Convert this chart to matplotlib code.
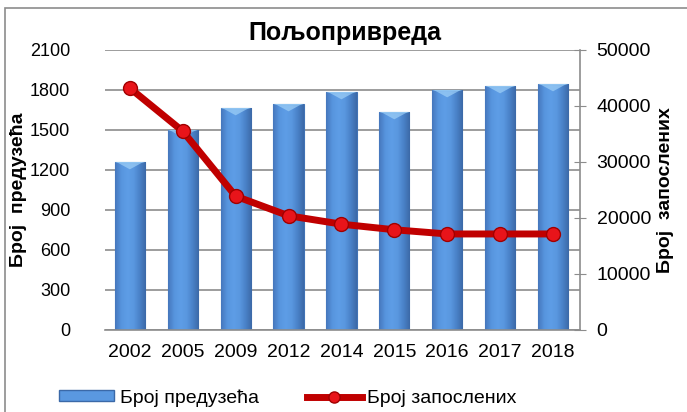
import matplotlib
matplotlib.use('Agg')
import matplotlib.pyplot as plt
import numpy as np
from matplotlib.patches import Rectangle
from matplotlib.lines import Line2D
from matplotlib.colors import LinearSegmentedColormap

years = ['2002', '2005', '2009', '2012', '2014', '2015', '2016', '2017', '2018']
firms = [1260, 1500, 1665, 1695, 1785, 1635, 1800, 1830, 1845]
employees = [43200, 35500, 23900, 20400, 18900, 17900, 17150, 17150, 17150]

plt.rcParams['font.family'] = ['Liberation Sans Narrow', 'Liberation Sans', 'DejaVu Sans']

fig = plt.figure(figsize=(6.87, 4.12), dpi=100)
# outer chart frame (cut off on the right and bottom like the original)
fig.patches.append(Rectangle((5 / 687, -0.1), 1.1, 1.1 - 8 / 412, transform=fig.transFigure,
                             fill=False, edgecolor='#8c8c8c', linewidth=1.2))

ax = fig.add_axes([105 / 687, 1 - 330 / 412, (580 - 105) / 687, 280 / 412])
x = np.arange(len(years))
width = 0.57
bars = ax.bar(x, firms, width=width, color='#5593dc', edgecolor='#4173b5', linewidth=0.8, zorder=2)

# horizontal shading inside each bar
cmap = LinearSegmentedColormap.from_list('bar', ['#4677bd', '#5795de', '#5e9de6', '#5a98e0', '#4a82c8', '#3c69a8'])
grad = np.linspace(0, 1, 64).reshape(1, -1)
for b in bars:
    x0, w, h = b.get_x(), b.get_width(), b.get_height()
    im = ax.imshow(grad, cmap=cmap, extent=[x0, x0 + w, 0, h], aspect='auto', zorder=2.1)
    im.set_clip_path(b)
    # light bevel on the top of the bar
    ax.fill([x0 + w * 0.12, x0 + w * 0.88, x0 + w * 0.5], [h - 8, h - 8, h - 55],
            color='#9fd0f7', alpha=0.7, zorder=2.2, linewidth=0)
    ax.fill([x0, x0 + w, x0 + w * 0.88, x0 + w * 0.12], [h, h, h - 8, h - 8],
            color='#8fc4f1', zorder=2.2, linewidth=0)

ax.set_ylim(0, 2100)
ax.set_yticks(range(0, 2101, 300))
ax.set_xlim(-0.47, 8.51)
ax.set_xticks(x)
ax.set_xticklabels(years)
ax.yaxis.grid(True, color='#8c8c8c', linewidth=1.2, zorder=0)
ax.set_axisbelow(True)
for s in ['top', 'left', 'right']:
    ax.spines[s].set_visible(False)
ax.spines['bottom'].set_color('#8c8c8c')
ax.spines['bottom'].set_linewidth(1.2)
ax.tick_params(axis='both', length=0, labelsize=14)
ax.tick_params(axis='y', labelsize=13, pad=25)
ax.tick_params(axis='x', pad=10)

ax2 = ax.twinx()
ax2.plot(x, employees, color='#c00000', linewidth=5, marker='o', markersize=10,
         markerfacecolor='#e8141a', markeredgecolor='#a00000', zorder=3)
ax2.set_ylim(0, 50000)
ax2.set_yticks(range(0, 50001, 10000))
for s in ['top', 'left', 'bottom']:
    ax2.spines[s].set_visible(False)
ax2.spines['right'].set_color('#8c8c8c')
ax2.spines['right'].set_linewidth(1.2)
ax2.tick_params(axis='y', direction='inout', length=8, color='#8c8c8c', labelsize=14, pad=8)

fig.text(19 / 687, 1 - 190 / 412, 'Број  предузећа', rotation=90, ha='center', va='center',
         fontsize=14, fontweight='bold')
fig.text(666 / 687, 1 - 190 / 412, 'Број  запослених', rotation=90, ha='center', va='center',
         fontsize=14, fontweight='bold')
fig.text(345 / 687, 1 - 33 / 412, 'Пољопривреда', ha='center', va='center',
         fontsize=18, fontweight='bold')

handles = [Rectangle((0, 0), 1, 1, facecolor='#5a98e0', edgecolor='#3b69a8'),
           Line2D([0], [0], color='#c00000', linewidth=5, marker='o', markersize=8,
                  markerfacecolor='#e8141a', markeredgecolor='#a00000')]
fig.legend(handles, ['Број предузећа', 'Број запослених'], loc='center',
           bbox_to_anchor=(288 / 687, 1 - 398 / 412), ncol=2, frameon=False,
           fontsize=14, handlelength=2.8, handleheight=0.5, columnspacing=2.5, handletextpad=0.3)

fig.savefig('out.png', dpi=100)
